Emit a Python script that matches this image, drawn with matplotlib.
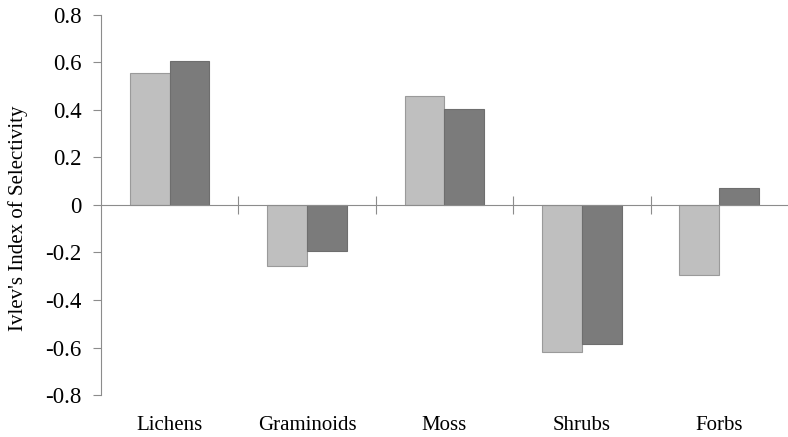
import matplotlib
matplotlib.use("Agg")
import matplotlib.pyplot as plt
import numpy as np

categories = ["Lichens", "Graminoids", "Moss", "Shrubs", "Forbs"]
series_light = [0.556, -0.257, 0.459, -0.619, -0.295]
series_dark = [0.606, -0.194, 0.404, -0.585, 0.072]
ytick_values = [0.8, 0.6, 0.4, 0.2, 0, -0.2, -0.4, -0.6, -0.8]
ytick_labels = ["0.8", "0.6", "0.4", "0.2", "0", "-0.2", "-0.4", "-0.6", "-0.8"]

plt.rcParams['font.family'] = ['Liberation Serif', 'DejaVu Serif']

fig = plt.figure(figsize=(7.88, 4.37), dpi=100)
ax = fig.add_axes([0.128, 0.0961, 0.872, 0.8696])

x = np.arange(len(categories))
w = 0.29
axis_col = "#8c8c8c"
ax.bar(x - w/2, series_light, w, color="#bfbfbf", edgecolor="#9a9a9a", linewidth=0.8, zorder=2)
ax.bar(x + w/2, series_dark, w, color="#7b7b7b", edgecolor="#6e6e6e", linewidth=0.8, zorder=2)

ax.set_xlim(-0.5, len(categories) - 0.5)
ax.set_ylim(-0.8, 0.8)
ax.set_yticks(ytick_values)
ax.set_yticklabels(ytick_labels, fontsize=16.5)
ax.tick_params(axis='y', direction='out', length=6, color=axis_col, width=0.8, pad=8)

for s in ['top', 'right']:
    ax.spines[s].set_visible(False)
ax.spines['left'].set_color(axis_col)
ax.spines['left'].set_linewidth(0.8)
ax.spines['bottom'].set_position(('data', 0))
ax.spines['bottom'].set_color(axis_col)
ax.spines['bottom'].set_linewidth(0.8)
ax.spines['bottom'].set_zorder(3)

ax.set_xticks([])
ax.set_xticks(np.arange(len(categories) - 1) + 0.5, minor=True)
ax.tick_params(axis='x', which='minor', direction='inout', length=13, color=axis_col, width=0.8)
ax.tick_params(axis='x', which='major', length=0)

sec = ax.secondary_xaxis(0)
sec.set_xticks(x)
sec.set_xticklabels(categories, fontsize=15)
sec.tick_params(length=0, pad=15)
sec.spines['bottom'].set_visible(False)

ax.set_ylabel("Ivlev's Index of Selectivity", fontsize=15)
ax.yaxis.set_label_coords(-0.106, 0.466)

fig.savefig("out.png", dpi=100)
